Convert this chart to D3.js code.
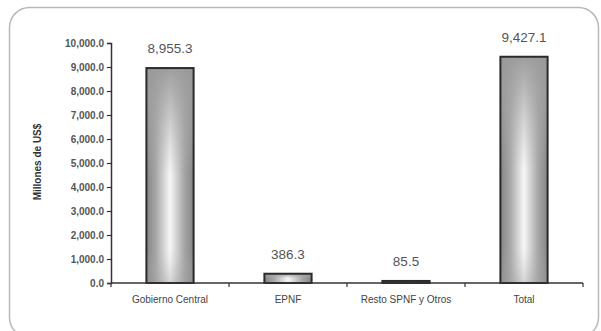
<!DOCTYPE html>
<html>
<head>
<meta charset="utf-8">
<script src="https://cdn.jsdelivr.net/npm/d3@7"></script>
<style>
  html, body { margin: 0; padding: 0; background: #fff; }
  svg { display: block; font-family: "Liberation Sans", Arial, sans-serif; }
</style>
</head>
<body>
<svg id="chart" width="601" height="331"></svg>
<script>
// Deuda por sector (millones de US$)
const categories = ["Gobierno Central", "EPNF", "Resto SPNF y Otros", "Total"];
const values = [8955.3, 386.3, 85.5, 9427.1];
const valueLabels = ["8,955.3", "386.3", "85.5", "9,427.1"];
const yTicks = [0, 1000, 2000, 3000, 4000, 5000, 6000, 7000, 8000, 9000, 10000];
const yTitle = "Millones de US$";

const svg = d3.select("#chart");

// rounded frame around the chart area
svg.append("rect")
  .attr("x", 9.5).attr("y", 7.5)
  .attr("width", 589).attr("height", 330)
  .attr("rx", 20).attr("ry", 20)
  .attr("fill", "#fff")
  .attr("stroke", "#b8b8b8")
  .attr("stroke-width", 1.5);

const y = d3.scaleLinear().domain([0, 10000]).range([283, 43]);
const x = d3.scaleBand().domain(categories).range([111, 583]).paddingInner(0.6).paddingOuter(0.3);
const xTickScale = d3.scaleBand().domain(categories).range([111, 583]);

// bar shading: cylinder-like, dark edges and a pale center
const defs = svg.append("defs");
const gH = defs.append("linearGradient").attr("id", "barH")
  .attr("x1", "0").attr("x2", "1").attr("y1", "0").attr("y2", "0");
[[0, "#858585"], [0.2, "#a6a6a6"], [0.5, "#f7f7f7"], [0.8, "#a6a6a6"], [1, "#858585"]]
  .forEach(([o, c]) => gH.append("stop").attr("offset", o).attr("stop-color", c));
const gV = defs.append("linearGradient").attr("id", "barV")
  .attr("x1", "0").attr("x2", "0").attr("y1", "0").attr("y2", "1");
[[0, "#9a9a9a", 0.95], [0.15, "#a2a2a2", 0.7], [0.5, "#b0b0b0", 0.0], [0.85, "#b0b0b0", 0.0], [1, "#a0a0a0", 0.4]]
  .forEach(([o, c, op]) => gV.append("stop").attr("offset", o).attr("stop-color", c).attr("stop-opacity", op));

// y axis
const yAxis = d3.axisLeft(y).tickValues(yTicks)
  .tickFormat(d3.format(",.1f")).tickSizeInner(4).tickSizeOuter(4).tickPadding(3);
const gy = svg.append("g").attr("transform", "translate(111,0)").call(yAxis);
gy.select(".domain").attr("stroke", "#333").attr("stroke-width", 1.5);
gy.selectAll(".tick line").attr("stroke", "#333").attr("stroke-width", 1.2);
gy.selectAll(".tick text").attr("fill", "#555").attr("font-size", 10).attr("font-weight", "bold");

// y title
svg.append("text")
  .attr("transform", `translate(41,162) rotate(-90)`)
  .attr("text-anchor", "middle")
  .attr("font-size", 10).attr("font-weight", "bold").attr("fill", "#333")
  .text(yTitle);

// bars
const bars = svg.append("g");
categories.forEach((c, i) => {
  const bx = x(c), bw = x.bandwidth(), by = y(values[i]), bh = y(0) - y(values[i]);
  bars.append("rect").attr("x", bx).attr("y", by).attr("width", bw).attr("height", bh)
    .attr("fill", "url(#barH)");
  bars.append("rect").attr("x", bx).attr("y", by).attr("width", bw).attr("height", bh)
    .attr("fill", "url(#barV)");
  bars.append("rect").attr("x", bx).attr("y", by).attr("width", bw).attr("height", bh)
    .attr("fill", "none").attr("stroke", "#2a2a2a").attr("stroke-width", 2);
  svg.append("text")
    .attr("x", bx + bw / 2).attr("y", by - 15)
    .attr("text-anchor", "middle")
    .attr("font-size", 13.5).attr("fill", "#555")
    .text(valueLabels[i]);
});

// x axis
const gx = svg.append("g").attr("transform", "translate(0,283)");
gx.append("line").attr("x1", 111).attr("x2", 583).attr("y1", 0).attr("y2", 0)
  .attr("stroke", "#333").attr("stroke-width", 1.5);
const tickXs = [111].concat(categories.map(c => xTickScale(c) + xTickScale.bandwidth()));
gx.selectAll("line.tk").data(tickXs).enter().append("line").attr("class", "tk")
  .attr("x1", d => d).attr("x2", d => d).attr("y1", 0).attr("y2", 4)
  .attr("stroke", "#333").attr("stroke-width", 1.2);
gx.selectAll("text").data(categories).enter().append("text")
  .attr("x", d => xTickScale(d) + xTickScale.bandwidth() / 2)
  .attr("y", 20)
  .attr("text-anchor", "middle")
  .attr("font-size", 10).attr("fill", "#444")
  .text(d => d);
</script>
</body>
</html>
